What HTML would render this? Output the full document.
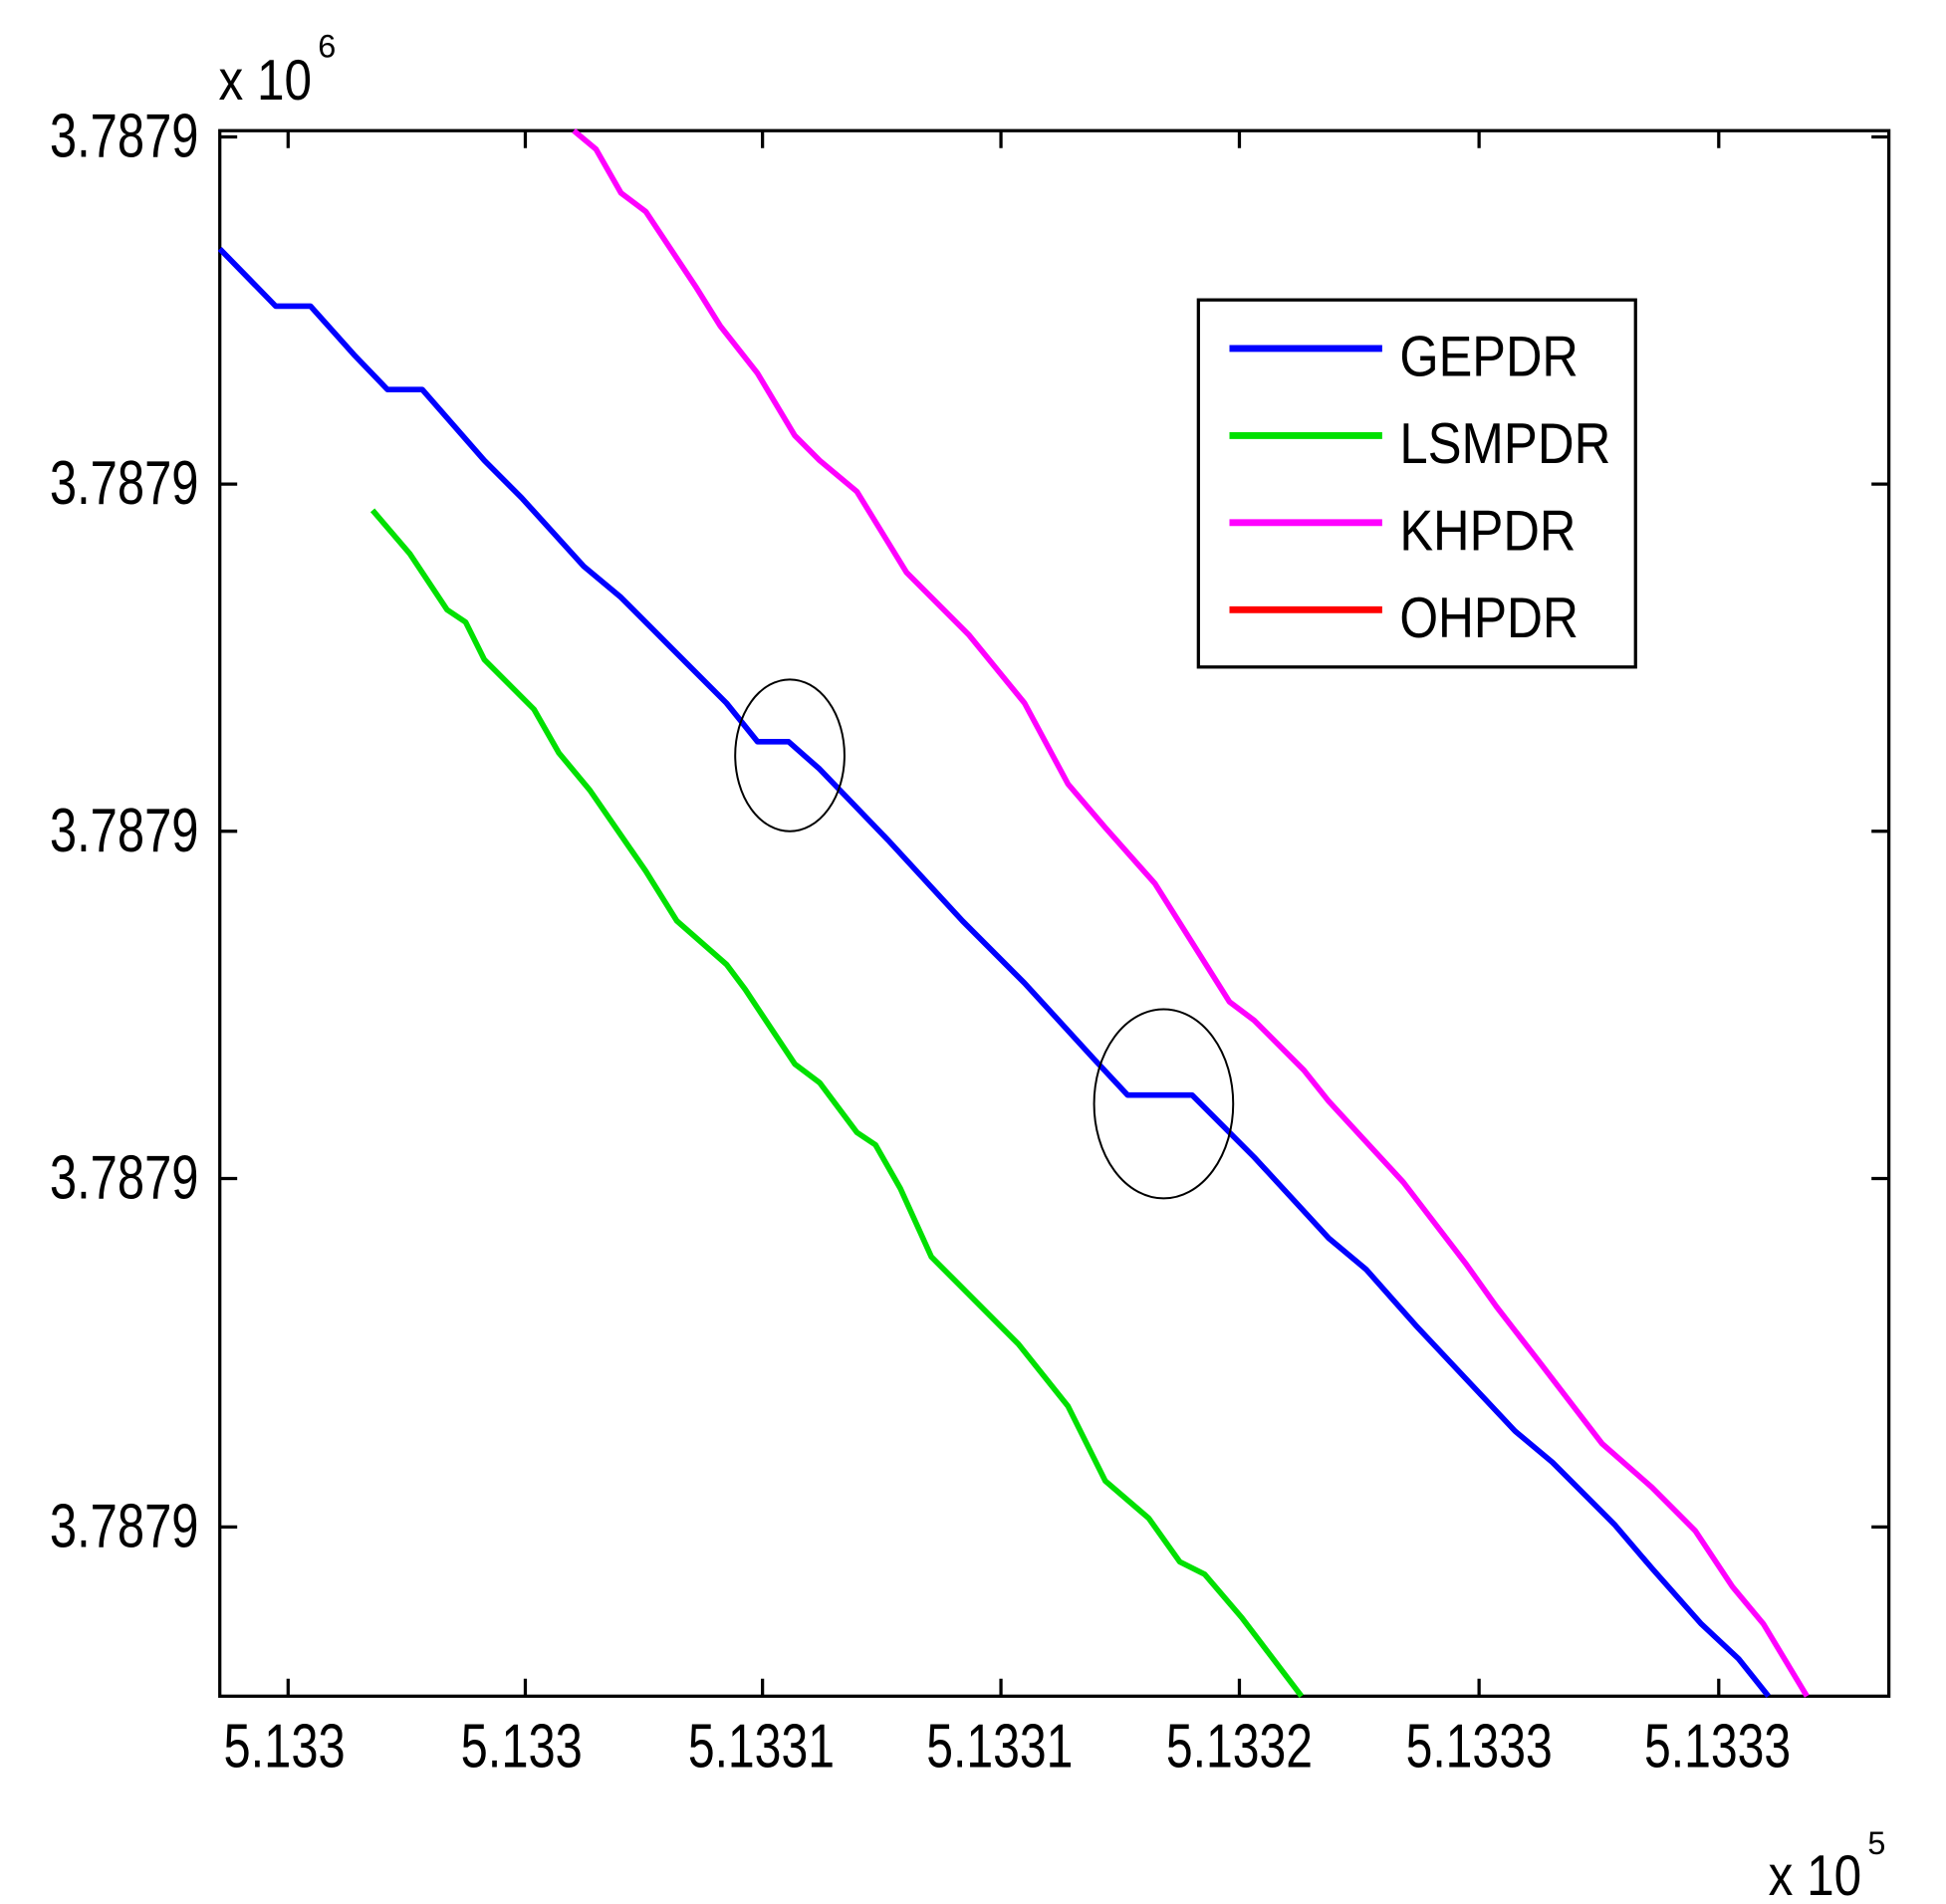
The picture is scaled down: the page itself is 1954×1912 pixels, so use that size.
<!DOCTYPE html>
<html><head><meta charset="utf-8"><style>
html,body{margin:0;padding:0;background:#fff;}
svg{display:block;}
text{font-family:"Liberation Sans",Arial,sans-serif;fill:#000;}
</style></head><body>
<svg width="1954" height="1912" viewBox="0 0 1567 1530" preserveAspectRatio="none" xmlns="http://www.w3.org/2000/svg">
<rect x="0" y="0" width="1567" height="1530" fill="#fff"/>
<g stroke="#000" stroke-width="2.6" fill="none">
<rect x="177" y="105" width="1344" height="1258"/>
<path d="M232,105v14M423,105v14M614,105v14M806,105v14M998,105v14M1191,105v14M1384,105v14
M232,1363v-14M423,1363v-14M614,1363v-14M806,1363v-14M998,1363v-14M1191,1363v-14M1384,1363v-14
M177,110h14M177,389h14M177,668h14M177,947h14M177,1227h14
M1521,110h-14M1521,389h-14M1521,668h-14M1521,947h-14M1521,1227h-14"/>
</g>
<g font-size="50">
<text x="40" y="126" textLength="120" lengthAdjust="spacingAndGlyphs">3.7879</text>
<text x="40" y="405" textLength="120" lengthAdjust="spacingAndGlyphs">3.7879</text>
<text x="40" y="684" textLength="120" lengthAdjust="spacingAndGlyphs">3.7879</text>
<text x="40" y="963" textLength="120" lengthAdjust="spacingAndGlyphs">3.7879</text>
<text x="40" y="1243" textLength="120" lengthAdjust="spacingAndGlyphs">3.7879</text>
</g>
<g font-size="50" text-anchor="middle">
<text x="229" y="1420" textLength="98" lengthAdjust="spacingAndGlyphs">5.133</text>
<text x="420" y="1420" textLength="98" lengthAdjust="spacingAndGlyphs">5.133</text>
<text x="613" y="1420" textLength="118" lengthAdjust="spacingAndGlyphs">5.1331</text>
<text x="805" y="1420" textLength="118" lengthAdjust="spacingAndGlyphs">5.1331</text>
<text x="998" y="1420" textLength="118" lengthAdjust="spacingAndGlyphs">5.1332</text>
<text x="1191" y="1420" textLength="118" lengthAdjust="spacingAndGlyphs">5.1333</text>
<text x="1383" y="1420" textLength="118" lengthAdjust="spacingAndGlyphs">5.1333</text>
</g>
<text x="176" y="80" font-size="46" textLength="75" lengthAdjust="spacingAndGlyphs">x 10</text>
<text x="256" y="46" font-size="26">6</text>
<text x="1424" y="1523" font-size="46" textLength="75" lengthAdjust="spacingAndGlyphs">x 10</text>
<text x="1504" y="1490" font-size="26">5</text>
<g fill="none" stroke-width="4.5" stroke-linejoin="round">
<polyline stroke="#ff00ff" points="462,105 480,120 500,155 520,170 560,230 580,262 610,300 640,350 660,370 690,395 730,460 760,490 780,510 825,565 860,630 890,665 930,710 990,805 1010,820 1050,860 1070,885 1130,950 1180,1015 1205,1050 1240,1095 1290,1160 1330,1195 1365,1230 1395,1275 1420,1305 1455,1363"/>
<polyline stroke="#00e000" points="300,410 330,445 360,490 375,500 390,530 430,570 450,605 475,635 520,700 545,740 585,775 600,795 640,855 660,870 690,910 705,920 725,955 750,1010 770,1030 820,1080 860,1130 890,1190 925,1220 950,1255 970,1265 1000,1300 1048,1363"/>
<polyline stroke="#0000ff" points="177,200 222,246 250,246 285,285 312,313 340,313 390,370 420,400 470,455 500,480 540,520 585,565 610,596 635,596 660,618 715,675 775,740 825,790 880,850 908,880 960,880 1010,930 1070,995 1100,1020 1140,1065 1220,1150 1250,1175 1300,1225 1330,1260 1370,1305 1400,1333 1424,1363"/>
</g>
<g fill="none" stroke="#000" stroke-width="1.6">
<ellipse cx="636" cy="607" rx="44" ry="61"/>
<ellipse cx="937" cy="887" rx="56" ry="76"/>
</g>
<rect x="965" y="241" width="352" height="295" fill="#fff" stroke="#000" stroke-width="2.6"/>
<g stroke-width="5.5">
<line x1="990" y1="280" x2="1113" y2="280" stroke="#0000ff"/>
<line x1="990" y1="350" x2="1113" y2="350" stroke="#00e000"/>
<line x1="990" y1="420" x2="1113" y2="420" stroke="#ff00ff"/>
<line x1="990" y1="490" x2="1113" y2="490" stroke="#ff0000"/>
</g>
<g font-size="46">
<text x="1127" y="302" textLength="144" lengthAdjust="spacingAndGlyphs">GEPDR</text>
<text x="1127" y="372" textLength="170" lengthAdjust="spacingAndGlyphs">LSMPDR</text>
<text x="1127" y="442" textLength="142" lengthAdjust="spacingAndGlyphs">KHPDR</text>
<text x="1127" y="512" textLength="144" lengthAdjust="spacingAndGlyphs">OHPDR</text>
</g>
</svg>
</body></html>
